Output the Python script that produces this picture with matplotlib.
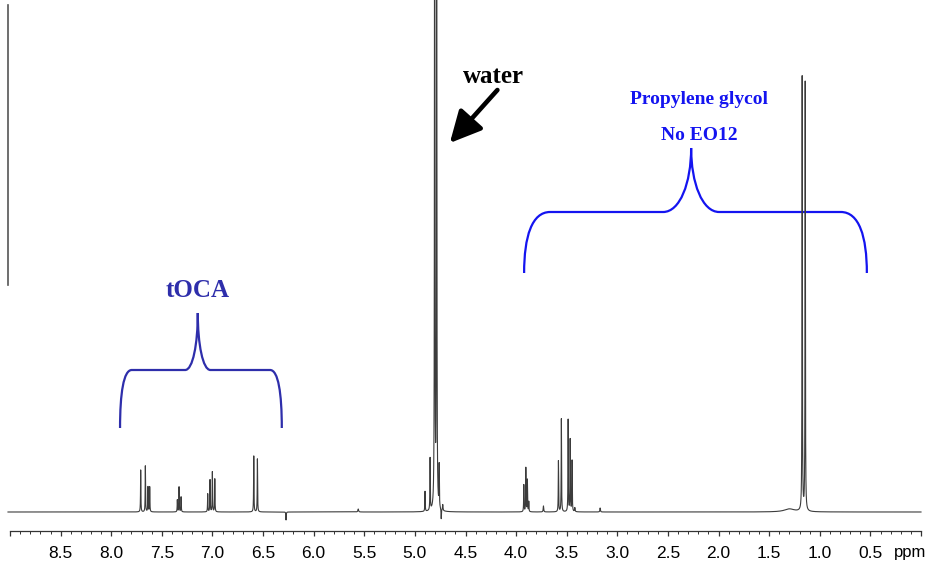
import numpy as np
import matplotlib
matplotlib.use("Agg")
import matplotlib.pyplot as plt
from matplotlib.path import Path
from matplotlib.patches import PathPatch
from matplotlib.ticker import MultipleLocator, FixedLocator, FuncFormatter

# peak list: shift (ppm), height (intensity), half width (ppm)
peak_ppm = [7.709, 7.663, 7.637, 7.620,
            7.347, 7.330, 7.310,
            7.047, 7.024, 7.001, 6.977,
            6.592, 6.556, 6.273,
            5.56,
            4.900, 4.850, 4.805, 4.785, 4.760, 4.740, 4.725,
            3.924, 3.904, 3.889, 3.875, 3.730,
            3.582, 3.553, 3.486, 3.466, 3.447, 3.420, 3.170,
            1.300, 1.174, 1.144]
peak_height = [42, 46, 25, 25,
               12, 25, 15,
               18, 32, 40, 33,
               56, 53, -8,
               3,
               20, 52, 900, 900, 42, -10, 6,
               27, 44, 32, 10, 6,
               51, 93, 92, 72, 51, 4, 4,
               3, 434, 429]
peak_width = [0.002, 0.002, 0.002, 0.002,
              0.002, 0.002, 0.002,
              0.002, 0.002, 0.002, 0.002,
              0.002, 0.002, 0.002,
              0.004,
              0.002, 0.002, 0.002, 0.002, 0.002, 0.002, 0.003,
              0.002, 0.002, 0.002, 0.002, 0.003,
              0.002, 0.002, 0.002, 0.002, 0.002, 0.003, 0.003,
              0.06, 0.002, 0.002]

tick_major = np.arange(0, 9.01, 0.5)

ppm = np.linspace(9.02, 0.0, 60000)
spec = np.zeros_like(ppm)
for c, h, w in zip(peak_ppm, peak_height, peak_width):
    spec += h * w**2 / ((ppm - c)**2 + w**2)

fig = plt.figure(figsize=(9.29, 5.64), dpi=100)
ax = fig.add_axes([0, 0, 1, 1])
ax.set_xlim(9.099, -0.079)
ax.set_ylim(-52, 512)

ax.plot(ppm, spec, color='#3c3c3c', lw=0.8)
# stray vertical line on the left edge of the original scan
ax.plot([9.02, 9.02], [512 - 285, 512 - 5], color='#555555', lw=1.2)

for s in ['top', 'left', 'right']:
    ax.spines[s].set_visible(False)
ax.spines['bottom'].set_position(('data', -19))
ax.spines['bottom'].set_bounds(0, 9)
ax.spines['bottom'].set_color('#333333')
ax.spines['bottom'].set_linewidth(0.9)
ax.yaxis.set_visible(False)
ax.xaxis.set_major_locator(FixedLocator(tick_major))
ax.xaxis.set_minor_locator(MultipleLocator(0.1))
ax.xaxis.set_major_formatter(FuncFormatter(
    lambda v, p: '' if v < 0.25 or v > 8.75 else f'{v:.1f}'))
ax.tick_params(axis='x', which='major', direction='out', length=3.8, width=0.9,
               color='#333333', pad=7, labelsize=12.5)
ax.tick_params(axis='x', which='minor', direction='out', length=1.9, width=0.7,
               color='#333333')
for lab in ax.get_xticklabels():
    lab.set_fontfamily(['Liberation Sans', 'DejaVu Sans'])
ax.text(0.107, -41, 'ppm', ha='center', va='center', fontsize=12,
        family=['Liberation Sans', 'DejaVu Sans'])


def brace(xl, xc, xr, yb, ym, yt, dxo, dxi, color):
    # curly brace, x axis runs from high to low ppm
    verts = [(xl, yb),
             (xl, yb + 0.6 * (ym - yb)), (xl - 0.3 * dxo, ym), (xl - dxo, ym),
             (xc + dxi, ym),
             (xc + 0.4 * dxi, ym), (xc, ym + 0.45 * (yt - ym)), (xc, yt),
             (xc, ym + 0.45 * (yt - ym)), (xc - 0.4 * dxi, ym), (xc - dxi, ym),
             (xr + dxo, ym),
             (xr + 0.3 * dxo, ym), (xr, yb + 0.6 * (ym - yb)), (xr, yb)]
    codes = [Path.MOVETO,
             Path.CURVE4, Path.CURVE4, Path.CURVE4,
             Path.LINETO,
             Path.CURVE4, Path.CURVE4, Path.CURVE4,
             Path.CURVE4, Path.CURVE4, Path.CURVE4,
             Path.LINETO,
             Path.CURVE4, Path.CURVE4, Path.CURVE4]
    ax.add_patch(PathPatch(Path(verts, codes), fill=False, edgecolor=color, lw=1.6))


toca_col = '#2e2eab'
pg_col = '#1414f0'
brace(7.913, 7.145, 6.315, 84, 142, 199, 0.116, 0.125, toca_col)
brace(3.921, 2.271, 0.535, 239, 300, 364, 0.257, 0.277, pg_col)

serif = ['Liberation Serif', 'DejaVu Serif']
ax.text(7.142, 215, 'tOCA', ha='center', va='baseline', fontsize=18,
        fontweight='bold', color=toca_col, family=serif)
ax.text(2.192, 408, 'Propylene glycol', ha='center', va='baseline', fontsize=14,
        fontweight='bold', color=pg_col, family=serif)
ax.text(2.194, 372, 'No EO12', ha='center', va='baseline', fontsize=14,
        fontweight='bold', color=pg_col, family=serif)
ax.text(4.227, 429, 'water', ha='center', va='baseline', fontsize=18,
        fontweight='bold', color='black', family=serif)
ax.annotate('', xy=(4.655, 369), xytext=(4.185, 422),
            arrowprops=dict(arrowstyle='-|>,head_length=1.0,head_width=0.5',
                            mutation_scale=19, lw=3.3, color='black',
                            shrinkA=0, shrinkB=0))

fig.savefig('out.png', dpi=100)
